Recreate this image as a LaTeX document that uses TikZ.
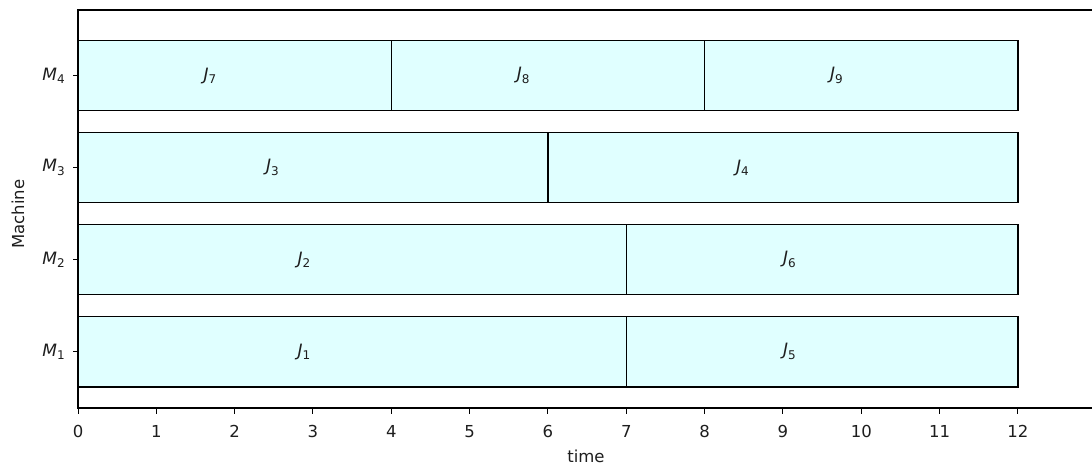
\documentclass[tikz,border=0pt]{standalone}
\usepackage{fontspec}
\setmainfont{DejaVu Sans}
\newcommand{\sublab}[2]{{\itshape #1}\raisebox{-0.22em}{\fontsize{12}{12}\selectfont #2}}
\definecolor{lightcyan}{RGB}{224,255,255}
\definecolor{inkgray}{RGB}{30,30,30}
\tikzset{
  bar/.style={draw=black, line width=1.6pt, fill=lightcyan, rectangle,
              minimum height=70pt, inner sep=0pt, outer sep=0pt, anchor=west},
  joblab/.style={anchor=west, inner sep=0pt, text=inkgray, font=\fontsize{17}{17}\selectfont},
  ticklab/.style={anchor=base, inner sep=0pt, text=inkgray, font=\fontsize{16.5}{16.5}\selectfont},
  mlab/.style={anchor=east, inner sep=0pt, text=inkgray, font=\fontsize{17}{17}\selectfont},
  spine/.style={line width=1.1pt, black},
  tickmark/.style={line width=1pt, black}
}
\begin{document}
\begin{tikzpicture}[x=1pt,y=1pt]
  \useasboundingbox (0,0) rectangle (1092,466);
  % axis geometry: time t -> 78 + 78.33 t ; machine k -> 114.3 + 92 (k-1)
  \def\tx#1{\fpeval{78+78.33*(#1)}}
  \def\my#1{\fpeval{114.3+92*((#1)-1)}}
  % spines
  \coordinate (o) at (78,58);
  \coordinate (tl) at (78,456);
  \coordinate (br) at (1092,58);
  \coordinate (tr) at (1092,456);
  \draw[spine] (br) -- (o) -- (tl) -- (tr);
  % x ticks
  \foreach \t in {0,...,12}{
    \coordinate (xt\t) at (\tx{\t},58);
    \draw[tickmark] (xt\t) -- ++(0,-5.5);
    \node[ticklab] (xl\t) at (\tx{\t},29) {\t};
  }
  \node[ticklab] (xlabel) at (586,4) {time};
  % y ticks
  \foreach \k in {1,...,4}{
    \coordinate (yt\k) at (78,\my{\k});
    \draw[tickmark] (yt\k) -- ++(-5.5,0);
    \node[mlab] (ml\k) at (65,\my{\k}) {\sublab{M}{\k}};
  }
  \node[rotate=90, inner sep=0pt, text=inkgray, font=\fontsize{16.5}{16.5}\selectfont] (ylabel) at (18,252) {Machine};
  % jobs: name, machine, start, duration
  \foreach \j/\m/\s/\d in {1/1/0/7, 5/1/7/5, 2/2/0/7, 6/2/7/5, 3/3/0/6, 4/3/6/6, 7/4/0/4, 8/4/4/4, 9/4/8/4}{
    \node[bar, minimum width=\fpeval{78.33*\d}pt] (job\j) at (\tx{\s},\my{\m}) {};
    \node[joblab] (jl\j) at (\tx{\s+0.4*\d},\my{\m}) {\sublab{J}{\j}};
  }
\end{tikzpicture}
\end{document}
